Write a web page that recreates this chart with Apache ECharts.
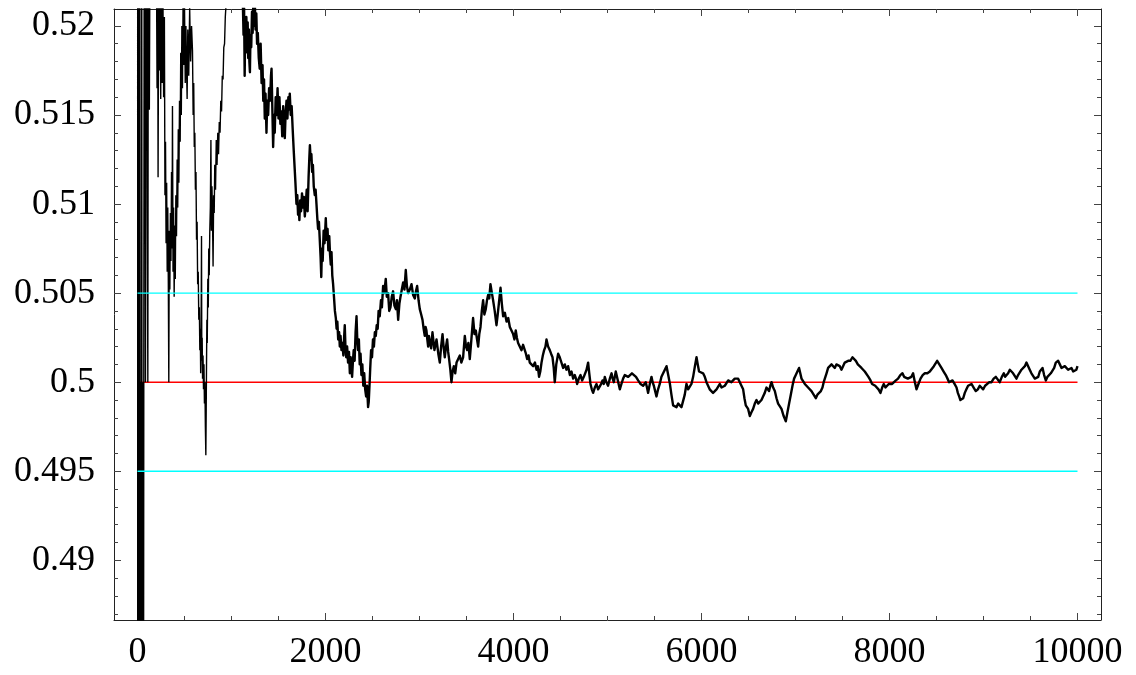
<!DOCTYPE html>
<html>
<head>
<meta charset="utf-8">
<script src="https://cdn.jsdelivr.net/npm/echarts@6/dist/echarts.min.js"></script>
<style>
  html, body { margin: 0; padding: 0; background: #fff; }
  #chart { width: 1136px; height: 675px; }
</style>
</head>
<body>
<div id="chart"></div>
<script>
// Running share of heads over 10000 tosses: [toss number, share]
const flipsOpening = [
  [1,0.60],[3,0.40],[5,0.60],[7,0.43],[9,0.56],[11,0.45],[13,0.54],[15,0.46],[17,0.53],[19,0.47],[21,0.53],[23,0.48],[25,0.525],
  [27,0.5],[29,0.475],[31,0.5],[33,0.478],[35,0.5],[37,0.48],[39,0.5],[41,0.482],[43,0.5],[45,0.53],[47,0.5],[49,0.483],[51,0.5],
  [53,0.484],[55,0.5],[57,0.485],[59,0.5],[61,0.484],[63,0.5],[65,0.485],[67,0.5],
  [72,0.53],[80,0.525],[85,0.5],[92,0.53],[100,0.524],[104,0.51],[110,0.5],[116,0.53],[126,0.5153],[134,0.526],[150,0.525],[170,0.524],[190,0.526],
  [202,0.523],[208,0.5165],[214,0.524],[219,0.5115],[226,0.5235],[233,0.5175],[240,0.523],[247,0.5159],[254,0.5225],[262,0.5168],[270,0.522],[278,0.516],[286,0.5205],
  [292,0.5105],[298,0.5135],[304,0.5078],[310,0.5112],[316,0.5062],[322,0.5098],[328,0.5055],[333,0.5],[338,0.5085],[344,0.5052],[350,0.5095],[356,0.5068],
  [362,0.5118],[368,0.5075],[372,0.5155],[378,0.5062],[384,0.5098],[390,0.5048],[396,0.5088],[402,0.5058],[408,0.5105],[415,0.5082],
  [422,0.5125],[428,0.5098],[434,0.5142],[440,0.5112],[447,0.5158],[454,0.5135],[460,0.5185],[466,0.5150],[472,0.5200],[478,0.5165],[485,0.5215],
  [492,0.5178],[500,0.5212],[508,0.5168],[515,0.5200],[522,0.5175],[528,0.5159],[535,0.5198],[545,0.5172],[555,0.5210],[565,0.5180],[575,0.5200],[585,0.5186],
  [592,0.5150],[598,0.5168],[604,0.5132],[610,0.5140],[616,0.5108],[622,0.5118],[628,0.5080],[634,0.5090],[640,0.5055],[646,0.5062],[652,0.5035],[658,0.5042],
  [663,0.5018],[668,0.5030],[672,0.5005],[676,0.5020],[681,0.5082],[684,0.5012],[688,0.5025],[692,0.5002],[697,0.5015],[702,0.4996],[707,0.5010],[712,0.4988],
  [717,0.5000],[722,0.4975],[727,0.4959],[731,0.4985],[734,0.5008],
  [738,0.5035],[742,0.5022],[748,0.5058],[753,0.5042],[758,0.5075],[763,0.5060],[769,0.5085],[775,0.5098],[781,0.5136],[786,0.5085],[792,0.5110],[798,0.5092],
  [804,0.5065],[810,0.5105],[816,0.5095],[822,0.5122],[830,0.5108],[838,0.5136],[846,0.5122],[854,0.5140],[862,0.5128],[870,0.5146],[878,0.5140],[886,0.5158],
  [894,0.5152],[902,0.5172],[910,0.5170],[918,0.5188],[926,0.5190],[934,0.5205],[942,0.5212],[950,0.5225],[980,0.5238],[1020,0.5245],[1060,0.5238],[1100,0.5228],[1120,0.5215]
];

const flipsSettling = [
  [1128,0.5195],[1134,0.5210],[1140,0.5172],[1146,0.5200],[1152,0.5185],[1158,0.5205],[1165,0.5190],[1172,0.5202],[1178,0.5182],[1185,0.5198],[1190,0.5180],
  [1196,0.5174],[1202,0.5195],[1210,0.5188],[1218,0.5208],[1225,0.5196],[1232,0.5212],[1240,0.5200],[1248,0.5213],[1256,0.5198],[1264,0.5207],[1272,0.5190],
  [1280,0.5196],[1290,0.5182],[1300,0.5176],[1310,0.5190],[1320,0.5168],[1330,0.5178],[1338,0.5158],[1346,0.5170],[1354,0.5148],[1362,0.5162],[1372,0.5140],
  [1380,0.5158],[1390,0.5150],[1400,0.5165],[1410,0.5158],[1420,0.5172],[1426,0.5176],[1434,0.5155],[1443,0.5132],[1452,0.5150],[1460,0.5140],[1470,0.5160],
  [1480,0.5150],[1490,0.5165],[1500,0.5148],[1510,0.5160],[1520,0.5145],[1530,0.5152],[1540,0.5138],[1550,0.5155],[1560,0.5145],[1567,0.5137],[1575,0.5150],
  [1585,0.5158],[1595,0.5148],[1605,0.5160],[1612,0.5153],[1620,0.5162],[1630,0.5150],[1640,0.5155],[1650,0.5143],
  [1662,0.5130],[1672,0.5120],[1680,0.5112],[1691,0.5100],[1700,0.5105],[1708,0.5094],[1715,0.5100],[1722,0.5091],[1730,0.5102],[1740,0.5096],[1750,0.5106],
  [1760,0.5098],[1770,0.5104],[1780,0.5093],[1790,0.5100],[1800,0.5108],[1810,0.5096],[1820,0.5115],[1828,0.5126],[1834,0.5133],[1842,0.5125],[1850,0.5128],
  [1858,0.5118],[1866,0.5122],[1875,0.5110],[1886,0.5105],[1895,0.5108],[1904,0.5100],[1913,0.5092],[1921,0.5086],[1930,0.5090],[1939,0.5080],[1948,0.5070],
  [1955,0.5059],[1962,0.5075],[1970,0.5068],[1980,0.5085],[1990,0.5078],[2003,0.5092],[2012,0.5080],[2022,0.5086],[2030,0.5074],[2040,0.5082],[2048,0.5072],
  [2056,0.5066],[2064,0.5073],[2072,0.5060],[2081,0.5055],[2090,0.5048],[2100,0.5040],[2110,0.5036],[2118,0.5030],[2126,0.5034],[2135,0.5024],[2145,0.5028],
  [2152,0.5020],[2160,0.5026],[2170,0.5018],[2180,0.5022],[2190,0.5015],[2198,0.5025],[2205,0.5032],[2212,0.5020],[2220,0.5014],[2230,0.5020],[2240,0.5011],
  [2250,0.5017],[2259,0.5005],[2268,0.5014],[2276,0.5008],[2283,0.5003],[2292,0.5012],[2300,0.5018],[2310,0.5012],[2320,0.5028],[2330,0.5037],[2338,0.5024],
  [2346,0.5018],[2355,0.5024],[2364,0.5010],[2373,0.5016],[2382,0.5004],[2392,0.5010],[2402,0.4998],[2412,0.5005],[2422,0.4996],[2432,0.4992],[2442,0.4998],
  [2453,0.4986],[2460,0.4989],[2468,0.4998],[2476,0.5008],[2485,0.5018],[2495,0.5014],[2505,0.5024],[2515,0.5020],[2525,0.5028],[2535,0.5026],[2545,0.5032],
  [2555,0.5030],[2565,0.5040],[2577,0.5037],
  [2590,0.5046],[2600,0.5042],[2613,0.5054],[2625,0.5050],[2641,0.5058],[2652,0.5048],[2666,0.5050],[2678,0.5040],[2691,0.5042],[2705,0.5048],[2719,0.5051],
  [2733,0.5043],[2748,0.5041],[2760,0.5046],[2773,0.5035],[2786,0.5044],[2798,0.5048],[2812,0.5052],[2826,0.5056],[2840,0.5052],[2854,0.5063],[2866,0.5054],
  [2879,0.5050],[2897,0.5052],[2915,0.5055],[2932,0.5049],[2950,0.5047],[2962,0.5051],[2975,0.5054],[2990,0.5046],[3003,0.5041],[3018,0.5038],[3032,0.5035],
  [3044,0.5030],[3056,0.5026],[3065,0.5031],[3074,0.5029],[3083,0.5024],[3092,0.5020],[3100,0.5026]
];

const flipsLate = [
  [3110,0.5023],[3124,0.5019],[3138,0.5028],[3159,0.5018],[3181,0.5024],[3200,0.5016],[3216,0.5011],[3230,0.5020],[3245,0.5027],[3258,0.5019],[3269,0.5014],
  [3282,0.5020],[3294,0.5024],[3305,0.5017],[3315,0.5013],[3328,0.5007],[3340,0.5000],[3352,0.5006],[3365,0.5009],[3380,0.5005],[3394,0.5011],[3410,0.5012],
  [3429,0.5015],[3445,0.5011],[3464,0.5014],[3482,0.5026],[3495,0.5020],[3507,0.5018],[3520,0.5022],[3535,0.5013],[3552,0.5024],[3570,0.5036],[3585,0.5027],
  [3599,0.5029],[3612,0.5024],[3624,0.5020],[3636,0.5027],[3649,0.5031],[3663,0.5040],[3677,0.5046],[3690,0.5038],[3705,0.5041],[3718,0.5046],[3730,0.5049],
  [3742,0.5047],[3755,0.5055],[3770,0.5050],[3783,0.5046],[3800,0.5040],[3819,0.5032],[3832,0.5038],[3844,0.5044],[3852,0.5048],[3862,0.5053],[3876,0.5044],
  [3890,0.5037],[3908,0.5039],[3926,0.5034],[3944,0.5036],[3961,0.5031],[3980,0.5030],[3996,0.5027],[4010,0.5024],[4024,0.5029],[4036,0.5025],[4049,0.5022],
  [4066,0.5023],[4085,0.5018],[4102,0.5021],[4120,0.5020],[4132,0.5016],[4145,0.5013],[4160,0.5015],[4173,0.5011],[4190,0.5012],[4209,0.5009],[4228,0.5011],
  [4245,0.5007],[4258,0.5009],[4272,0.5003],[4285,0.5006],[4298,0.5011],[4312,0.5015],[4326,0.5018],[4340,0.5020],[4351,0.5024],[4368,0.5020],[4386,0.5018],
  [4400,0.5016],[4415,0.5014],[4428,0.5008],[4439,0.5000],[4455,0.5010],[4475,0.5016],[4492,0.5014],[4511,0.5013],[4528,0.5008],[4546,0.5010],[4563,0.5007],
  [4581,0.5009],[4600,0.5004],[4617,0.5006],[4635,0.5002],[4652,0.5004],[4665,0.5002],[4677,0.4999],[4695,0.5002],[4713,0.5004],[4730,0.5001],[4748,0.5003],
  [4762,0.5004],[4777,0.5007],[4794,0.5011],[4806,0.5005],[4819,0.4999],[4833,0.4996],[4847,0.4994],[4865,0.4997],[4883,0.4999],[4900,0.4996],[4918,0.4996],
  [4933,0.4999],[4947,0.5001],[4960,0.4999],[4971,0.5003],[4988,0.5000],[5006,0.4998],[5025,0.5002],[5043,0.5005],[5055,0.5002],[5067,0.5000],[5078,0.5003],
  [5088,0.5006],[5110,0.5001],[5131,0.4996],[5148,0.4999],[5166,0.5002],[5184,0.5004],[5202,0.5005],[5220,0.5003],[5237,0.5002],[5260,0.5005],[5280,0.5004],
  [5303,0.5003],[5326,0.5001],[5352,0.4999],[5379,0.4998],[5393,0.4999],[5407,0.5000],[5420,0.4997],[5432,0.4994],[5450,0.4999],[5468,0.5003],[5480,0.5000],
  [5493,0.4998],[5507,0.4995],[5521,0.4992],[5538,0.4996],[5556,0.4999],[5574,0.5003],[5592,0.5005],[5610,0.5007],[5628,0.5009],[5646,0.5004],[5664,0.4999],
  [5680,0.4993],[5698,0.4987],[5716,0.4988],[5734,0.4986],[5752,0.4988],[5770,0.4987],[5787,0.4986],[5804,0.4985],[5822,0.4993],[5840,0.4999],[5858,0.4996],
  [5876,0.4995],[5893,0.4999],[5911,0.5003],[5930,0.5009],[5947,0.5014],[5960,0.5010],[5974,0.5006],[5995,0.5007],[6017,0.5005],[6035,0.5003],[6053,0.5000],
  [6070,0.4998],[6087,0.4996],[6105,0.4995],[6123,0.4994],[6142,0.4995],[6160,0.4996],[6178,0.4997],[6195,0.4999],[6213,0.4997],[6230,0.4998],[6248,0.4998],
  [6266,0.4999],[6284,0.5001],[6301,0.5002],[6318,0.5000],[6336,0.5001],[6354,0.5002],[6372,0.5003],[6390,0.5002],[6407,0.5001],[6425,0.4998],[6443,0.4996],
  [6457,0.4991],[6471,0.4987],[6485,0.4986],[6496,0.4985],[6505,0.4983],[6514,0.4981],[6530,0.4983],[6549,0.4985],[6567,0.4988],[6585,0.4990],[6602,0.4988],
  [6620,0.4987],[6638,0.4990],[6655,0.4992],[6673,0.4994],[6691,0.4997],[6705,0.4996],[6719,0.4995],[6732,0.4998],[6745,0.5000],[6762,0.4997],[6780,0.4995],
  [6798,0.4991],[6815,0.4988],[6833,0.4987],[6851,0.4985],[6874,0.4981],[6897,0.4978],[6914,0.4983],[6932,0.4988],[6950,0.4993],[6968,0.4998],[6985,0.5002],
  [7003,0.5004],[7020,0.5006],[7038,0.5008],[7051,0.5005],[7064,0.5002],[7080,0.5001],[7099,0.4999],[7116,0.4998],[7134,0.4997],[7152,0.4996],[7170,0.4995],
  [7193,0.4993],[7216,0.4991],[7233,0.4993],[7251,0.4994],[7270,0.4995],[7287,0.4997],[7300,0.5000],[7312,0.5002],[7330,0.5005],[7347,0.5008],[7365,0.5009],
  [7383,0.5010],[7400,0.5009],[7418,0.5008],[7435,0.5010],[7453,0.5011],[7471,0.5009],[7489,0.5007],[7506,0.5009],[7524,0.5011],[7542,0.5010],[7560,0.5012],
  [7583,0.5012],[7606,0.5014],[7624,0.5013],[7642,0.5012],[7663,0.5010],[7684,0.5009],[7702,0.5008],[7719,0.5007],[7737,0.5006],[7755,0.5005],[7776,0.5003],
  [7798,0.5001],[7815,0.4999],[7833,0.4998],[7848,0.4998],[7862,0.4999],[7883,0.4996],[7904,0.4994],[7922,0.4997],[7939,0.4999],[7957,0.4997],[7974,0.4998],
  [7992,0.4999],[8011,0.5000],[8028,0.4999],[8046,0.4999],[8068,0.5001],[8091,0.5002],[8115,0.5004],[8138,0.5005],[8155,0.5003],[8173,0.5002],[8195,0.5002],
  [8216,0.5001],[8233,0.5003],[8251,0.5005],[8270,0.5000],[8287,0.4996],[8308,0.4999],[8330,0.5002],[8353,0.5004],[8376,0.5005],[8403,0.5005],[8429,0.5006],
  [8450,0.5007],[8472,0.5009],[8490,0.5010],[8507,0.5012],[8530,0.5010],[8553,0.5008],[8576,0.5006],[8599,0.5004],[8617,0.5002],[8634,0.5000],[8652,0.5001],
  [8670,0.5001],[8692,0.4999],[8713,0.4997],[8727,0.4994],[8741,0.4992],[8754,0.4990],[8766,0.4989],[8784,0.4991],[8801,0.4994],[8818,0.4996],[8836,0.4998],
  [8854,0.4998],[8872,0.4999],[8895,0.4997],[8918,0.4995],[8940,0.4996],[8960,0.4998],[8978,0.4997],[8996,0.4996],[9017,0.4998],[9038,0.4999],[9062,0.5000],
  [9085,0.5000],[9108,0.5002],[9131,0.5003],[9152,0.5002],[9173,0.5000],[9195,0.5003],[9216,0.5005],[9230,0.5003],[9245,0.5002],[9262,0.5005],[9280,0.5007],
  [9298,0.5006],[9315,0.5005],[9333,0.5004],[9351,0.5002],[9368,0.5004],[9386,0.5005],[9404,0.5007],[9422,0.5008],[9440,0.5009],[9457,0.5011],[9475,0.5009],
  [9492,0.5007],[9510,0.5005],[9528,0.5004],[9546,0.5002],[9564,0.5001],[9582,0.5003],[9599,0.5006],[9613,0.5007],[9628,0.5008],[9645,0.5004],[9663,0.5001],
  [9680,0.5003],[9698,0.5004],[9716,0.5005],[9734,0.5005],[9752,0.5008],[9769,0.5011],[9782,0.5012],[9794,0.5012],[9812,0.5010],[9830,0.5008],[9848,0.5009],
  [9865,0.5009],[9883,0.5008],[9900,0.5007],[9918,0.5008],[9936,0.5008],[9954,0.5006],[9971,0.5005],[9988,0.5007],[10000,0.5009]
];

// Horizontal guide levels and the toss span they cover
const fairLevel = 0.5;
const bandLevels = [0.495, 0.505];
const levelSpan = [0, 10000];

// Axis ranges and tick marks
const xRange = [-250, 10250];
const yRange = [0.48665, 0.52095];
const xMajorTicks = [0, 2000, 4000, 6000, 8000, 10000];
const xMinorTicks = [500, 1000, 1500, 2500, 3000, 3500, 4500, 5000, 5500, 6500, 7000, 7500, 8500, 9000, 9500];
const yMajorTicks = [0.49, 0.495, 0.5, 0.505, 0.51, 0.515, 0.52];
const yMinorTicks = [0.487, 0.488, 0.489, 0.491, 0.492, 0.493, 0.494, 0.496, 0.497, 0.498, 0.499,
                     0.501, 0.502, 0.503, 0.504, 0.506, 0.507, 0.508, 0.509, 0.511, 0.512, 0.513, 0.514,
                     0.516, 0.517, 0.518, 0.519];

// The sparse opening tosses are drawn with a thin stroke, the dense rest with a heavier one
const openingRun = flipsOpening;
const settledRun = [flipsOpening[flipsOpening.length - 1]].concat(flipsSettling, flipsLate);

const labelFont = {
  fontFamily: '"Liberation Serif", "Times New Roman", serif',
  fontSize: 36,
  color: '#000'
};
const frameLine = { show: true, onZero: false, lineStyle: { color: '#222', width: 1 } };
const tickStyle = { color: '#444', width: 1 };

function xAxisDef(position, ticks, len, withLine, withLabels) {
  return {
    type: 'value', position: position, min: xRange[0], max: xRange[1],
    axisLine: withLine ? frameLine : { show: false, onZero: false },
    axisTick: { show: true, inside: true, length: len, customValues: ticks, lineStyle: tickStyle },
    axisLabel: withLabels
      ? Object.assign({ show: true, margin: 15, customValues: ticks, formatter: v => String(v) }, labelFont)
      : { show: false },
    splitLine: { show: false },
    minorTick: { show: false }
  };
}
function yAxisDef(position, ticks, len, withLine, withLabels) {
  return {
    type: 'value', position: position, min: yRange[0], max: yRange[1],
    axisLine: withLine ? frameLine : { show: false, onZero: false },
    axisTick: { show: true, inside: true, length: len, customValues: ticks, lineStyle: tickStyle },
    axisLabel: withLabels
      ? Object.assign({ show: true, margin: 19, customValues: ticks, formatter: v => String(+v.toFixed(3)) }, labelFont)
      : { show: false },
    splitLine: { show: false },
    minorTick: { show: false }
  };
}

const chart = echarts.init(document.getElementById('chart'), null, { renderer: 'canvas' });
chart.setOption({
  animation: false,
  backgroundColor: '#fff',
  grid: { left: 114, top: 9, right: 35, bottom: 55, containLabel: false },
  xAxis: [
    xAxisDef('bottom', xMajorTicks, 7, true, true),
    xAxisDef('bottom', xMinorTicks, 4, false, false),
    xAxisDef('top', xMajorTicks, 7, true, false),
    xAxisDef('top', xMinorTicks, 4, false, false)
  ],
  yAxis: [
    yAxisDef('left', yMajorTicks, 7, true, true),
    yAxisDef('left', yMinorTicks, 4, false, false),
    yAxisDef('right', yMajorTicks, 7, true, false),
    yAxisDef('right', yMinorTicks, 4, false, false)
  ],
  series: [
    {
      type: 'line', name: 'fair', xAxisIndex: 0, yAxisIndex: 0, symbol: 'none', silent: true, z: 1,
      lineStyle: { color: '#ff0000', width: 1.4 },
      data: levelSpan.map(n => [n, fairLevel])
    },
    {
      type: 'line', name: 'heads share (opening)', xAxisIndex: 0, yAxisIndex: 0, symbol: 'none', silent: true, z: 2,
      clip: true,
      lineStyle: { color: '#000', width: 1.4 },
      data: openingRun
    },
    {
      type: 'line', name: 'heads share', xAxisIndex: 0, yAxisIndex: 0, symbol: 'none', silent: true, z: 2,
      clip: true,
      lineStyle: { color: '#000', width: 2.4, join: 'round' },
      data: settledRun
    },
    ...bandLevels.map(level => ({
      type: 'line', name: 'band ' + level, xAxisIndex: 0, yAxisIndex: 0, symbol: 'none', silent: true, z: 3,
      lineStyle: { color: '#00ffff', width: 1.4 },
      data: levelSpan.map(n => [n, level])
    }))
  ]
});
</script>
</body>
</html>
